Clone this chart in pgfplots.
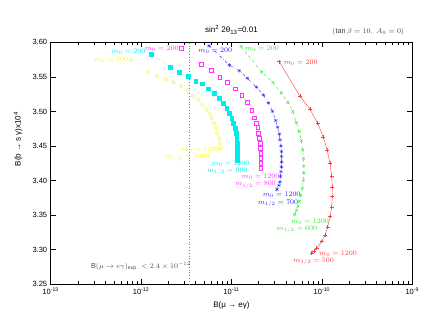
\documentclass[border=0pt]{standalone}
\usepackage{pgfplots}
\pgfplotsset{compat=1.18}
\usepackage{fontspec}
\setmainfont{Liberation Sans}

\definecolor{gred}{RGB}{255,60,60}
\definecolor{ggreen}{RGB}{40,235,40}
\definecolor{gblue}{RGB}{40,40,255}
\definecolor{gmag}{RGB}{255,50,255}
\definecolor{gcyan}{RGB}{0,235,235}
\definecolor{gyel}{RGB}{245,245,40}

\newcommand{\lab}{\fontsize{7.3}{8}\selectfont}

\begin{document}
\begin{tikzpicture}
\begin{axis}[
    at={(50.7pt,42.7pt)}, anchor=south west,
    scale only axis,
    width=361.6pt, height=242pt,
    xmode=log, log basis x=10,
    xmin=1e-13, xmax=1e-9,
    ymin=3.25, ymax=3.60,
    ytick={3.25,3.30,3.35,3.40,3.45,3.50,3.55,3.60},
    xticklabel={\pgfmathparse{int(round(\tick))}10\textsuperscript{\pgfmathresult}},
    yticklabel style={/pgf/number format/.cd, fixed, fixed zerofill, precision=2, assume math mode=true},
    tick label style={font=\fontsize{7.5}{8}\selectfont},
    major tick length=5pt, minor tick length=3pt,
    tick style={black, line width=0.5pt},
    axis line style={line width=0.6pt},
    clip=false,
]
% experimental bound
\addplot[gray, dotted, line width=0.8pt] coordinates {(3.39e-12,3.25) (3.39e-12,3.60)};

% m_{1/2} = 1000
\addplot[gyel, dotted, line width=0.4pt, mark=o, mark size=1.9pt, mark options={solid}] coordinates {
(7.73e-13,3.574) (1.192e-12,3.557) (1.499e-12,3.551) (1.885e-12,3.546) (2.282e-12,3.542)
(2.762e-12,3.537) (3.303e-12,3.530) (3.778e-12,3.522) (4.293e-12,3.517) (4.80e-12,3.509)
(5.316e-12,3.502) (5.783e-12,3.496) (6.04e-12,3.490) (6.40e-12,3.483) (6.74e-12,3.476)
(6.97e-12,3.468) (7.33e-12,3.461) (7.46e-12,3.454) (7.65e-12,3.447)
};
% m_{1/2} = 900
\addplot[gcyan, dotted, line width=0.4pt, mark=square*, mark size=1.9pt, mark options={solid}] coordinates {
(1.297e-12,3.583) (2.104e-12,3.564) (2.64e-12,3.557) (3.30e-12,3.551) (4.018e-12,3.544)
(4.753e-12,3.540) (5.54e-12,3.533) (6.40e-12,3.526) (7.33e-12,3.519) (8.12e-12,3.512)
(8.85e-12,3.505) (9.46e-12,3.497) (1.005e-11,3.490) (1.047e-11,3.483) (1.093e-11,3.476)
(1.121e-11,3.468) (1.141e-11,3.461) (1.159e-11,3.454) (1.159e-11,3.447) (1.159e-11,3.440)
(1.159e-11,3.433) (1.159e-11,3.430)
};
% m_{1/2} = 800
\addplot[gmag, dotted, line width=0.4pt, mark=square, mark size=1.9pt, mark options={solid}] coordinates {
(2.80e-12,3.591) (4.63e-12,3.568) (5.93e-12,3.560) (7.40e-12,3.550) (9.03e-12,3.542)
(1.093e-11,3.533) (1.297e-11,3.523) (1.496e-11,3.513) (1.673e-11,3.502) (1.787e-11,3.491)
(1.866e-11,3.483) (1.949e-11,3.477) (1.979e-11,3.468) (2.03e-11,3.461) (2.067e-11,3.454)
(2.083e-11,3.447) (2.104e-11,3.440) (2.104e-11,3.432) (2.104e-11,3.425) (2.104e-11,3.418)
};
% m_{1/2} = 700
\addplot[gblue, dash dot, line width=0.4pt, mark=asterisk, mark size=1.9pt, mark options={solid}] coordinates {
(5.64e-12,3.595) (9.46e-12,3.567) (1.22e-11,3.559) (1.496e-11,3.548) (1.89e-11,3.535)
(2.248e-11,3.524) (2.566e-11,3.512) (2.84e-11,3.500) (3.09e-11,3.487) (3.23e-11,3.477)
(3.38e-11,3.467) (3.44e-11,3.459) (3.53e-11,3.450) (3.57e-11,3.442) (3.59e-11,3.435)
(3.59e-11,3.427) (3.57e-11,3.420) (3.53e-11,3.413) (3.48e-11,3.406) (3.44e-11,3.398)
(3.35e-11,3.393) (3.18e-11,3.387)
};
% m_{1/2} = 600
\addplot[ggreen, dashed, line width=0.4pt, mark=x, mark size=1.9pt, mark options={solid}] coordinates {
(1.274e-11,3.594) (2.158e-11,3.557) (2.864e-11,3.542) (3.555e-11,3.527) (4.196e-11,3.513)
(4.765e-11,3.500) (5.21e-11,3.484) (5.62e-11,3.471) (5.92e-11,3.458) (6.13e-11,3.444)
(6.26e-11,3.432) (6.30e-11,3.421) (6.30e-11,3.411) (6.22e-11,3.400) (6.07e-11,3.389)
(5.87e-11,3.379) (5.65e-11,3.370) (5.44e-11,3.363) (5.24e-11,3.357) (4.98e-11,3.351)
};
% m_{1/2} = 500
\addplot[gred, solid, line width=0.4pt, mark=+, mark size=1.9pt] coordinates {
(3.38e-11,3.572) (5.72e-11,3.522) (7.39e-11,3.503) (8.98e-11,3.483) (1.036e-10,3.463)
(1.147e-10,3.444) (1.229e-10,3.425) (1.283e-10,3.406) (1.303e-10,3.391) (1.303e-10,3.377)
(1.283e-10,3.362) (1.229e-10,3.348) (1.159e-10,3.333) (1.082e-10,3.321) (9.95e-11,3.312)
(8.76e-11,3.302) (8.18e-11,3.298) (7.71e-11,3.295)
};

\node[gyel, font=\lab] at (rel axis cs:0.1673,0.9269) {$m_0 = 200$};
\node[gyel, font=\lab] at (rel axis cs:0.4143,0.5579) {$m_0 = 1200$};
\node[gyel, font=\lab] at (rel axis cs:0.3783,0.5219) {$m_{1/2} = 1000$};
\node[gcyan, font=\lab] at (rel axis cs:0.2152,0.9612) {$m_0 = 200$};
\node[gcyan, font=\lab] at (rel axis cs:0.4972,0.4971) {$m_0 = 1200$};
\node[gcyan, font=\lab] at (rel axis cs:0.4884,0.4653) {$m_{1/2} = 900$};
\node[gmag, font=\lab] at (rel axis cs:0.3070,0.9723) {$m_0 = 200$};
\node[gmag, font=\lab] at (rel axis cs:0.5802,0.4446) {$m_0 = 1200$};
\node[gmag, font=\lab] at (rel axis cs:0.5664,0.4103) {$m_{1/2} = 800$};
\node[gblue, font=\lab] at (rel axis cs:0.4552,0.9640) {$m_0 = 200$};
\node[gblue, font=\lab] at (rel axis cs:0.6388,0.3690) {$m_0 = 1200$};
\node[gblue, font=\lab] at (rel axis cs:0.6286,0.3347) {$m_{1/2} = 700$};
\node[ggreen, font=\lab] at (rel axis cs:0.5844,0.9752) {$m_0 = 200$};
\node[ggreen, font=\lab] at (rel axis cs:0.7171,0.2587) {$m_0 = 1200$};
\node[ggreen, font=\lab] at (rel axis cs:0.6811,0.2273) {$m_{1/2} = 600$};
\node[gred, font=\lab] at (rel axis cs:0.6914,0.9157) {$m_0 = 200$};
\node[gred, font=\lab] at (rel axis cs:0.7945,0.1281) {$m_0 = 1200$};
\node[gred, font=\lab] at (rel axis cs:0.7273,0.0934) {$m_{1/2} = 500$};

\node[black!70, font=\lab] at (rel axis cs:0.2494,0.0756)
  {$\mathrm{B}(\mu\to e\gamma)_{\mathrm{exp.}} < 2.4\times10^{-12}$};
\node[black!75, font=\lab] at (rel axis cs:0.8783,1.0438) {$(\tan\beta = 10,\ A_0 = 0)$};
\node[font=\fontsize{8}{9}\selectfont] at (rel axis cs:0.5,1.0508) {sin\textsuperscript{2} 2θ\textsubscript{13}=0.01};
\node[font=\fontsize{8}{9}\selectfont] at (rel axis cs:0.5,-0.0855) {B(μ → eγ)};
\node[font=\fontsize{8}{9}\selectfont, rotate=90] at (rel axis cs:-0.0904,0.6004) {B(b → s γ)x10\textsuperscript{4}};
\end{axis}
\pgfresetboundingbox
\path[use as bounding box] (0,0) rectangle (436pt,327pt);
\end{tikzpicture}
\end{document}
